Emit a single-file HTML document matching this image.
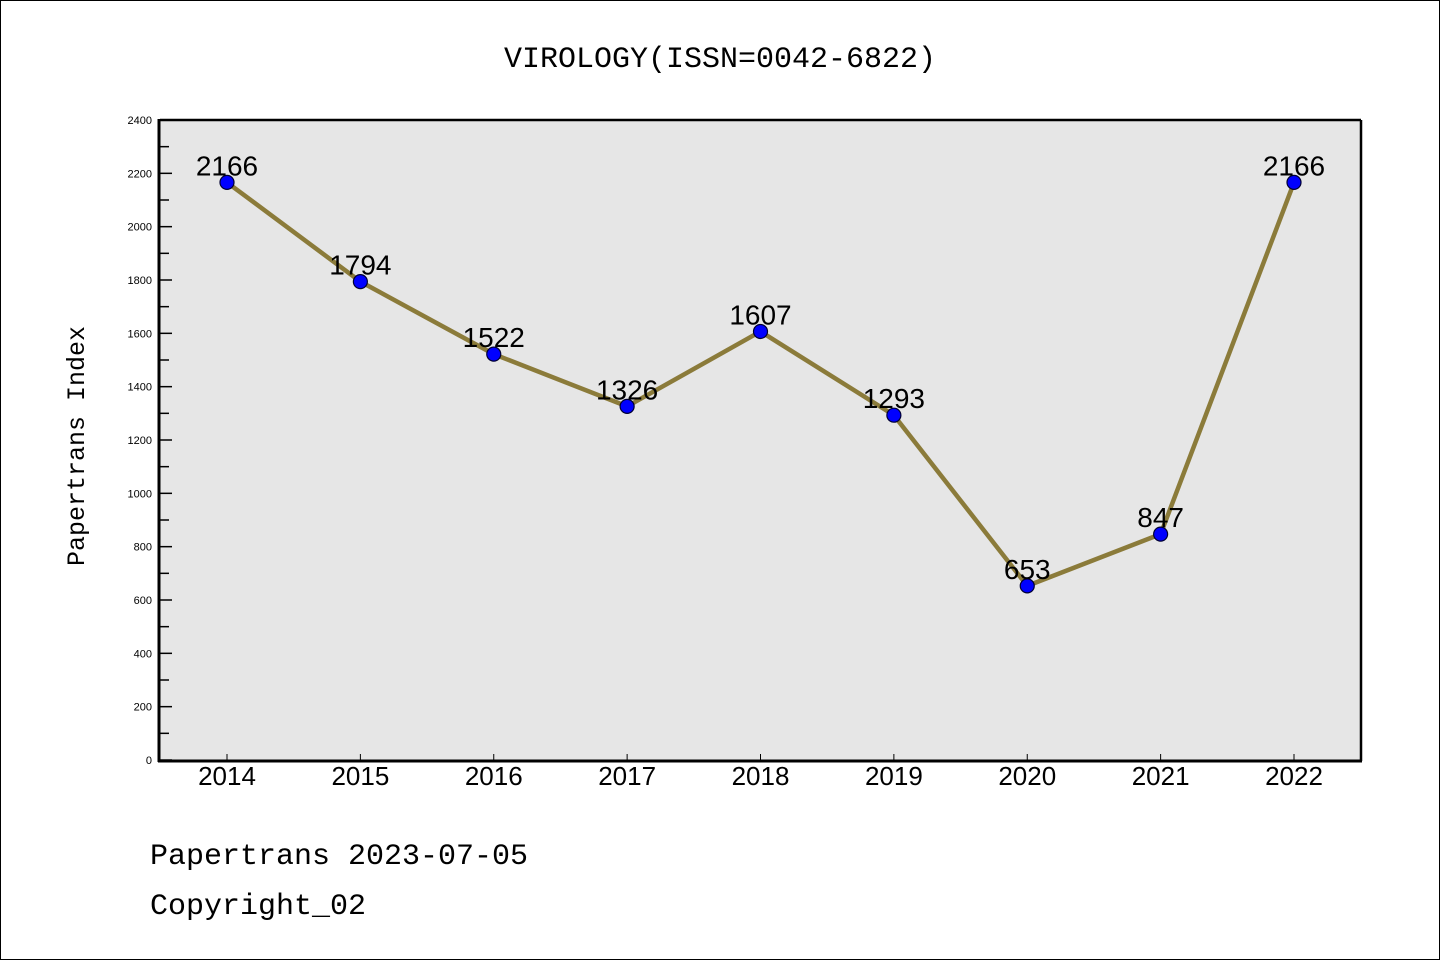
<!DOCTYPE html>
<html><head><meta charset="utf-8"><style>
body{margin:0;background:#fff}
svg{display:block}
</style></head><body>
<svg width="1440" height="960" xmlns="http://www.w3.org/2000/svg">
<rect x="0.5" y="0.5" width="1439" height="959" fill="#fff" stroke="#000"/>
<text x="720" y="67" text-anchor="middle" font-family="Liberation Mono, monospace" font-size="30">VIROLOGY(ISSN=0042-6822)</text>
<rect x="160" y="120" width="1201" height="640" fill="#e6e6e6"/>
<g id="axes"></g>
<g id="marks"></g>
<line x1="160" y1="120" x2="1361" y2="120" stroke="#000" stroke-width="2.5"/>
<line x1="1361" y1="120" x2="1361" y2="761" stroke="#000" stroke-width="2.5"/>
<line x1="159" y1="119" x2="159" y2="762" stroke="#000" stroke-width="3"/>
<line x1="158" y1="761" x2="1362" y2="761" stroke="#000" stroke-width="3"/>
<text transform="translate(84,446) rotate(-90)" text-anchor="middle" font-family="Liberation Mono, monospace" font-size="25">Papertrans Index</text>
<text x="150" y="864" font-family="Liberation Mono, monospace" font-size="30">Papertrans 2023-07-05</text>
<text x="150" y="914" font-family="Liberation Mono, monospace" font-size="30">Copyright_02</text>
</svg>
<script>
const years=["2014","2015","2016","2017","2018","2019","2020","2021","2022"];
const values=[2166,1794,1522,1326,1607,1293,653,847,2166];
const yTicks=[0,200,400,600,800,1000,1200,1400,1600,1800,2000,2200,2400];
const NS="http://www.w3.org/2000/svg";
const xS=i=>227+i*(1294-227)/(years.length-1);
const yS=v=>760-v*640/2400;
function mk(tag,attrs,parent,txt){const e=document.createElementNS(NS,tag);for(const k in attrs)e.setAttribute(k,attrs[k]);if(txt!==undefined)e.textContent=txt;parent.appendChild(e);return e;}
const ax=document.getElementById('axes'),mg=document.getElementById('marks');
yTicks.forEach((t,i)=>{
 const y=yS(t);
 const l=mk('line',{x1:160,y1:y,x2:172,y2:y,stroke:'#000','stroke-width':1.5},ax);
 
 
 const tx=mk('text',{x:152,y:y+4,'text-anchor':'end','font-family':'Liberation Sans, sans-serif','font-size':11},ax,String(t));
 
 
 if(i<yTicks.length-1){const ym=yS(t+100);
  const m=mk('line',{x1:160,y1:ym,x2:169,y2:ym,stroke:'#000','stroke-width':1.5},ax);
  
  }
});
years.forEach((yr,i)=>{
 const x=xS(i);
 const l=mk('line',{x1:x,y1:760,x2:x,y2:754,stroke:'#000','stroke-width':1},ax);
 
 
 const t=mk('text',{x:x,y:785,'text-anchor':'middle','font-family':'Liberation Sans, sans-serif','font-size':26},ax,yr);
 
 
});
const pts=values.map((v,i)=>xS(i)+','+yS(v)).join(' ');
const pl=mk('polyline',{points:pts,fill:'none',stroke:'#8b7b3a','stroke-width':4.5,'stroke-linejoin':'round'},mg);


values.forEach((v,i)=>{
 const c=mk('circle',{cx:xS(i),cy:yS(v),r:7,fill:'#0000ff',stroke:'#000033','stroke-width':1.2},mg);
 
 
 const t=mk('text',{x:xS(i),y:yS(v)-7,'text-anchor':'middle','font-family':'Liberation Sans, sans-serif','font-size':28},mg,String(v));
 
 
});
</script>
</body></html>
